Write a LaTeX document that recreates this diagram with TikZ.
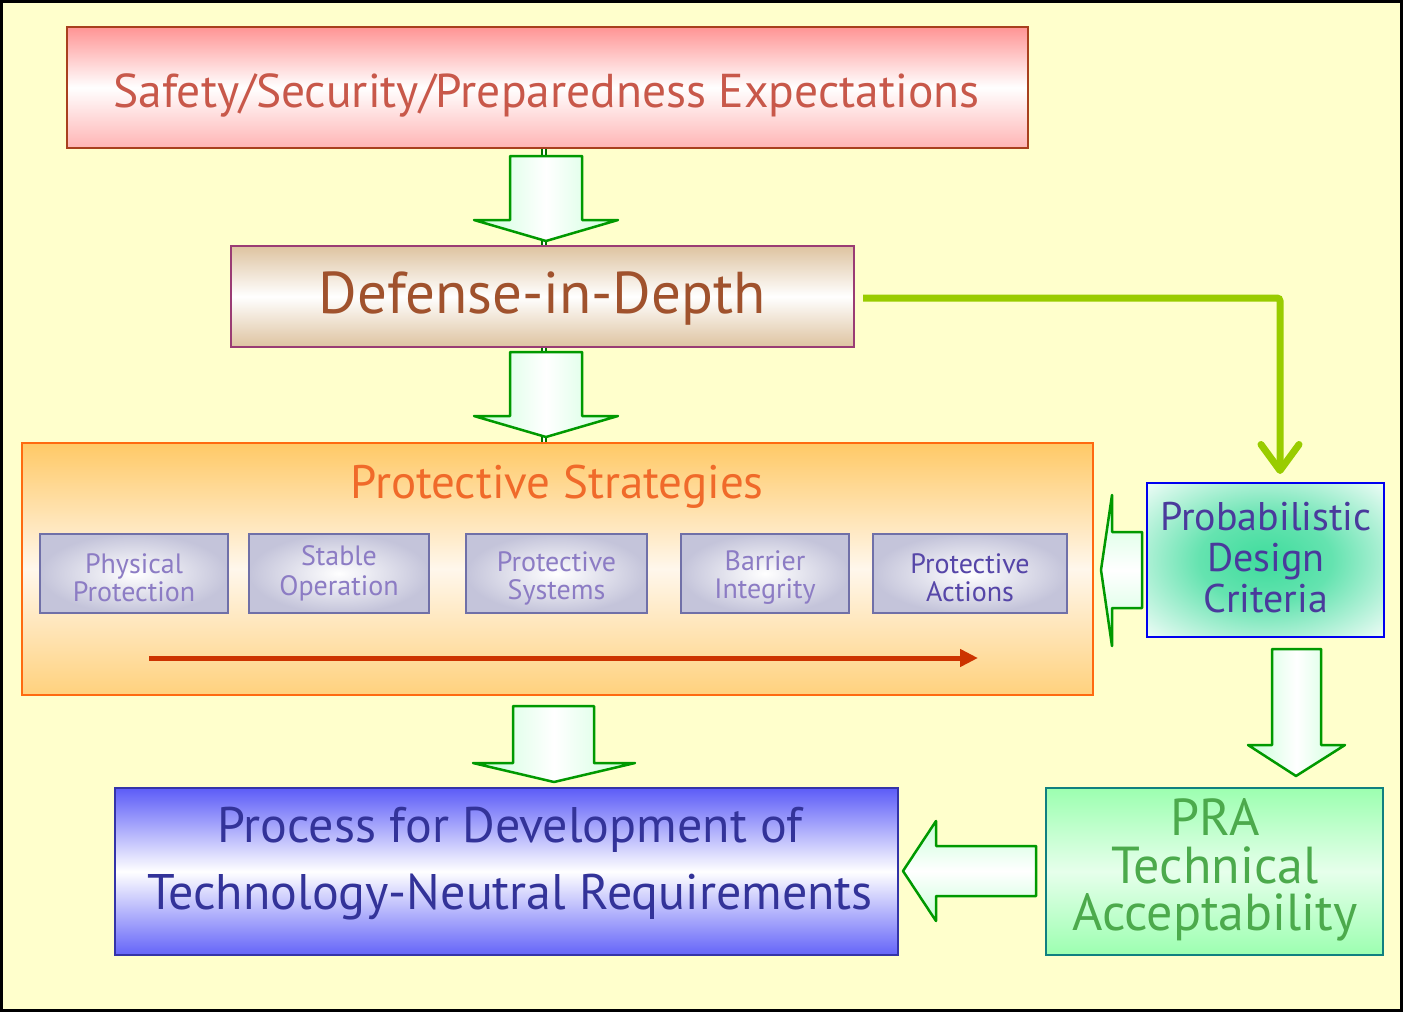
\documentclass[tikz,border=0pt]{standalone}
\usepackage{fontspec}
\setmainfont{PT Sans}
\usetikzlibrary{arrows.meta,calc}

\definecolor{bgyellow}{HTML}{FFFFCC}
\definecolor{arrowgreen}{HTML}{009900}
\definecolor{arrowfill}{HTML}{C8FFD8}
\definecolor{limegreen}{HTML}{99CC00}
\definecolor{topred}{HTML}{FF9494}
\definecolor{topredlow}{HTML}{FFB4B4}
\definecolor{topedge}{HTML}{A8401E}
\definecolor{toptext}{HTML}{C8584A}
\definecolor{tan}{HTML}{DEC3A0}
\definecolor{ddedge}{HTML}{9A3C74}
\definecolor{ddtext}{HTML}{A0522D}
\definecolor{psorange}{HTML}{FFC966}
\definecolor{psmid}{HTML}{FFF7EC}
\definecolor{psedge}{HTML}{FF6A10}
\definecolor{pstext}{HTML}{F06A2A}
\definecolor{sboxgray}{HTML}{C4C4DA}
\definecolor{sboxedge}{HTML}{7070A8}
\definecolor{sboxtext}{HTML}{8C7CC4}
\definecolor{sboxdark}{HTML}{5646A8}
\definecolor{redarrow}{HTML}{CC3300}
\definecolor{pdcgreen}{HTML}{3EDC9C}
\definecolor{pdctext}{HTML}{4A3A9C}
\definecolor{pdcedge}{HTML}{0000F0}
\definecolor{prafill}{HTML}{9CFFB0}
\definecolor{praedge}{HTML}{108080}
\definecolor{pratext}{HTML}{4CAA4C}
\definecolor{procblue}{HTML}{5C5CF8}
\definecolor{procedge}{HTML}{3434A8}
\definecolor{proctext}{HTML}{333399}

% soft green glow for the design criteria box
\pgfdeclareradialshading{pdcglow}{\pgfpoint{0bp}{0bp}}{%
  color(0bp)=(pdcgreen); color(14bp)=(pdcgreen!80!white);
  color(38bp)=(white); color(100bp)=(white)}

\tikzset{
  mainbox/.style={inner sep=0pt, align=center, line width=2pt},
  sbox/.style={draw=sboxedge, line width=2pt, inner color=white, outer color=sboxgray,
    minimum height=79pt, inner sep=0pt},
  sboxlabel/.style={text=sboxtext, align=center, inner sep=1pt,
    font=\fontsize{28}{28}\selectfont},
  blockdown/.style={draw=arrowgreen, line width=2.5pt, line join=round,
    left color=arrowfill, right color=arrowfill, middle color=white},
  blockleft/.style={draw=arrowgreen, line width=2.5pt, line join=round,
    top color=arrowfill, bottom color=arrowfill, middle color=white},
  elbow/.style={draw=limegreen, line width=7pt, rounded corners=3pt,
    -{Straight Barb[length=26pt,width=38pt,round]}},
  flow/.style={draw=redarrow, line width=5pt, -{Triangle[length=18pt,width=17pt]}},
  joiner/.style={draw=arrowgreen!75!black, double=white, double distance=2pt, line width=2pt}
}

\begin{document}
\begin{tikzpicture}[x=1pt,y=1pt]
  % page background and frame
  \fill[bgyellow] (0,0) rectangle (1403,-1012);
  \draw[black, line width=3pt] (1.5,-1.5) rectangle (1401.5,-1010.5);
  \useasboundingbox (0,0) rectangle (1403,-1012);

  % main boxes
  \node[mainbox, draw=topedge, top color=topred, bottom color=topredlow, middle color=white,
        minimum width=961pt, minimum height=121pt] (top) at (547.5,-87.5) {};
  \node[text=toptext, font=\fontsize{47.5}{47.5}\selectfont] (toplabel) at (546.5,-95)
        {Safety/Security/Preparedness Expectations};

  \node[mainbox, draw=ddedge, top color=tan, bottom color=tan, middle color=white,
        minimum width=623pt, minimum height=101pt] (dd) at (542.5,-296.5) {};
  \node[text=ddtext, font=\fontsize{59}{59}\selectfont] (ddlabel) at (542,-299)
        {Defense-in-Depth};

  \node[mainbox, draw=psedge, top color=psorange, bottom color=psorange!85, middle color=psmid,
        minimum width=1071pt, minimum height=252pt] (ps) at (557.5,-569) {};
  \node[text=pstext, font=\fontsize{47}{47}\selectfont] (pstitle) at (557,-487)
        {Protective Strategies};

  % the five strategies
  \node[sbox, minimum width=188pt] (pp)   at (134,-573.5) {};
  \node[sboxlabel] at (134,-578) {Physical\\Protection};
  \node[sbox, minimum width=180pt] (so)   at (339,-573.5) {};
  \node[sboxlabel, font=\fontsize{28}{30}\selectfont] at (339,-573) {Stable\\Operation};
  \node[sbox, minimum width=181pt] (psys) at (556.5,-573.5) {};
  \node[sboxlabel] at (556.5,-578) {Protective\\Systems};
  \node[sbox, minimum width=168pt] (bi)   at (765,-573.5) {};
  \node[sboxlabel] at (765,-578) {Barrier\\Integrity};
  \node[sbox, minimum width=194pt] (pa)   at (970,-573.5) {};
  \node[sboxlabel, text=sboxdark] at (970,-578) {Protective\\Actions};

  % sequence arrow under the strategies
  \coordinate (rs) at (149,-658);
  \coordinate (re) at (978,-658);
  \draw[flow] (rs) -- (re);

  \node[mainbox, draw=pdcedge, shading=pdcglow,
        minimum width=237pt, minimum height=154pt] (pdc) at (1265.5,-560) {};
  \node[text=pdctext, font=\fontsize{40}{41}\selectfont, align=center] (pdclabel) at (1266,-558)
        {Probabilistic\\Design\\Criteria};

  \node[mainbox, draw=praedge, top color=prafill, bottom color=prafill, middle color=prafill!25,
        minimum width=337pt, minimum height=167pt] (pra) at (1214.5,-871.5) {};
  \node[text=pratext, font=\fontsize{52}{47.5}\selectfont, align=center] (pralabel) at (1215,-870)
        {PRA\\Technical\\Acceptability};

  \node[mainbox, draw=procedge, top color=procblue, bottom color=procblue!95, middle color=white,
        minimum width=783pt, minimum height=167pt] (proc) at (506.5,-871.5) {};
  \node[text=proctext, font=\fontsize{50}{67}\selectfont, align=center] (proclabel) at (510,-864)
        {Process for Development of\\Technology-Neutral Requirements};

  % thin joiners running behind the block arrows
  \draw[joiner] ([xshift=-4pt]top.south) -- ([xshift=1pt]dd.north);
  \draw[joiner] ([xshift=1pt]dd.south) -- ([xshift=-14pt]ps.north);

  % block arrows
  \draw[blockdown] (510,-156) -- (582,-156) -- (582,-220) -- (618,-220) -- (546,-241)
        -- (474,-220) -- (510,-220) -- cycle;
  \draw[blockdown] (510,-352) -- (582,-352) -- (582,-416) -- (618,-416) -- (546,-437)
        -- (474,-416) -- (510,-416) -- cycle;
  \draw[blockdown] (513,-706) -- (594,-706) -- (594,-763) -- (635,-763) -- (554,-782)
        -- (473,-763) -- (513,-763) -- cycle;
  \draw[blockdown] (1272,-649) -- (1321,-649) -- (1321,-745) -- (1345,-745) -- (1296,-776)
        -- (1248,-745) -- (1272,-745) -- cycle;
  \draw[blockleft] (1142,-532) -- (1112,-532) -- (1112,-495) -- (1101,-570) -- (1112,-646)
        -- (1112,-608) -- (1142,-608) -- cycle;
  \draw[blockleft] (1036,-846) -- (936,-846) -- (936,-821) -- (903,-871) -- (936,-921)
        -- (936,-896) -- (1036,-896) -- cycle;

  % elbow connector to the design criteria
  \draw[elbow] ([xshift=8pt,yshift=-1.5pt]dd.east) -| ([xshift=14.5pt,yshift=8pt]pdc.north);
\end{tikzpicture}
\end{document}
